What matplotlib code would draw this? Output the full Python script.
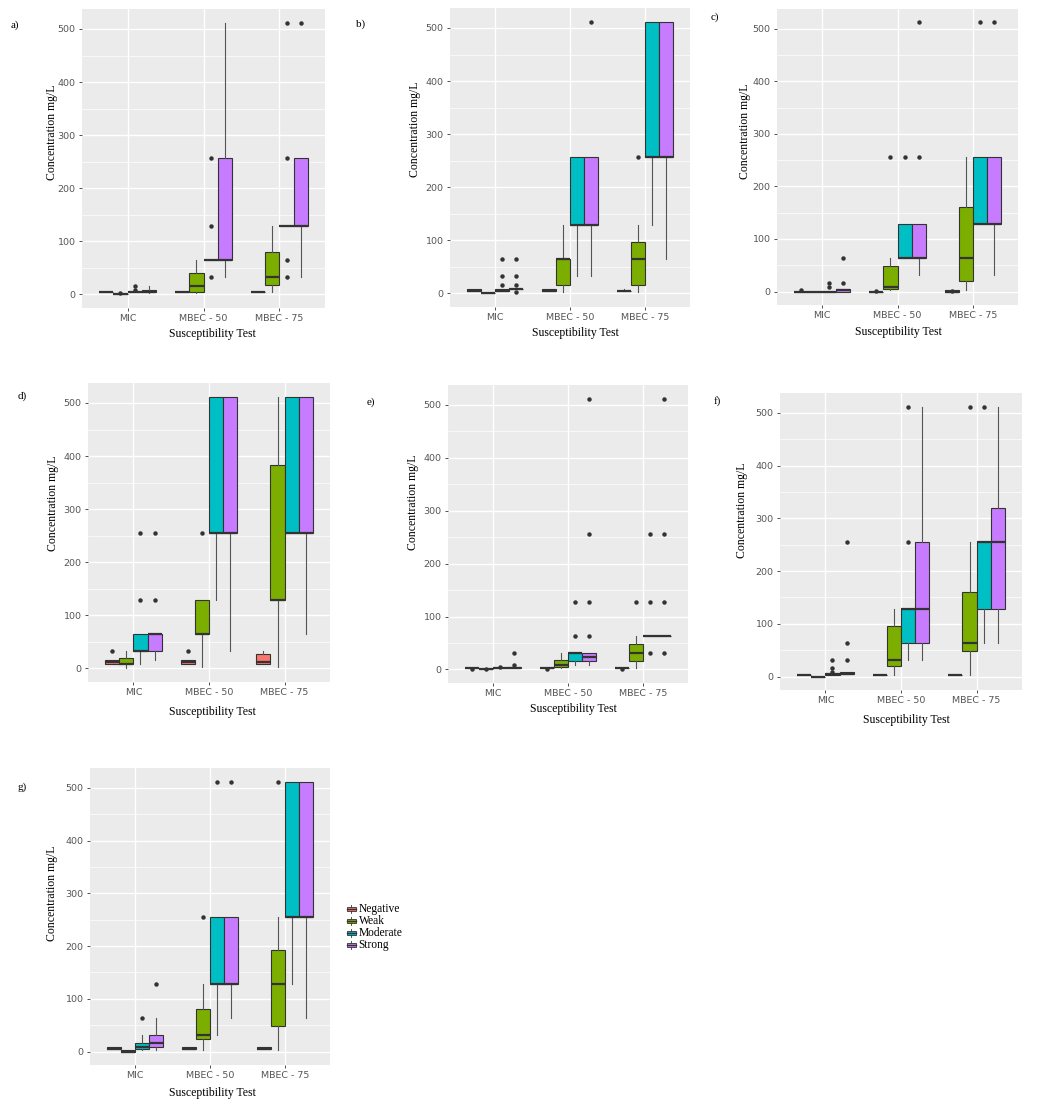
import matplotlib
matplotlib.use('Agg')
import matplotlib.pyplot as plt
from matplotlib.patches import Patch, Rectangle
from matplotlib.lines import Line2D
from matplotlib.legend_handler import HandlerBase

TESTS = ['MIC', 'MBEC - 50', 'MBEC - 75']
GROUPS = ['Negative', 'Weak', 'Moderate', 'Strong']
COLORS = ['#F8766D', '#7CAE00', '#00BFC4', '#C77CFF']

# box stats per test (MIC, MBEC-50, MBEC-75), per group:
# (whisker low, q1, median, q3, whisker high)
A_STATS = [[(4, 4, 4, 4, 4), (0, 0, 0, 0, 0), (4, 4, 4, 4, 4), (2, 4, 4, 8, 16)],
           [(4, 4, 4, 4, 4), (2, 4, 16, 40, 64), (64, 64, 64, 64, 64), (32, 64, 64, 256, 512)],
           [(4, 4, 4, 4, 4), (4, 18, 32, 80, 128), (128, 128, 128, 128, 128), (32, 128, 128, 256, 256)]]
A_FLIERS = [[[], [2], [8, 16], []],
            [[], [], [32, 128, 256], []],
            [[], [], [32, 64, 256, 512], [512]]]

B_STATS = [[(4, 4, 4, 8, 8), (0, 0, 0, 0, 0), (4, 4, 4, 8, 8), (8, 8, 8, 8, 8)],
           [(4, 4, 4, 8, 8), (2, 16, 64, 64, 128), (32, 128, 128, 256, 256), (32, 128, 128, 256, 256)],
           [(4, 4, 4, 4, 8), (2, 16, 64, 96, 128), (128, 256, 256, 512, 512), (64, 256, 256, 512, 512)]]
B_FLIERS = [[[], [], [16, 32, 64], [2, 16, 32, 64]],
            [[], [], [], [512]],
            [[], [256], [], []]]

C_STATS = [[(0, 0, 0, 0, 0), (0, 0, 0, 0, 0), (0, 0, 0, 0, 0), (0, 0, 2, 4, 4)],
           [(0, 0, 0, 0, 0), (2, 4, 8, 48, 64), (64, 64, 64, 128, 128), (32, 64, 64, 128, 128)],
           [(0, 0, 0, 2, 2), (2, 20, 64, 160, 256), (128, 128, 128, 256, 256), (32, 128, 128, 256, 256)]]
C_FLIERS = [[[2], [], [8, 16], [16, 64]],
            [[1], [256], [256], [256, 512]],
            [[1], [], [512], [512]]]

D_STATS = [[(8, 8, 12, 16, 16), (0, 8, 8, 20, 32), (8, 32, 32, 64, 64), (16, 32, 64, 64, 64)],
           [(8, 8, 12, 16, 16), (2, 64, 64, 128, 128), (128, 256, 256, 512, 512), (32, 256, 256, 512, 512)],
           [(8, 8, 12, 28, 32), (2, 128, 128, 384, 512), (256, 256, 256, 512, 512), (64, 256, 256, 512, 512)]]
D_FLIERS = [[[32], [], [128, 256], [128, 256]],
            [[32], [256], [], []],
            [[], [], [], []]]

E_STATS = [[(2, 2, 2, 2, 2), (0, 0, 0, 0, 0), (2, 2, 2, 2, 2), (2, 2, 2, 4, 4)],
           [(2, 2, 2, 2, 2), (2, 5, 8, 18, 32), (8, 16, 32, 32, 32), (8, 16, 24, 32, 32)],
           [(2, 2, 2, 2, 2), (2, 16, 32, 48, 64), (64, 64, 64, 64, 64), (64, 64, 64, 64, 64)]]
E_FLIERS = [[[0], [1], [4], [8, 32]],
            [[0], [], [64, 128], [64, 128, 256, 512]],
            [[0], [128], [32, 128, 256], [32, 128, 256, 512]]]

F_STATS = [[(2, 2, 2, 2, 2), (0, 0, 0, 0, 0), (2, 2, 4, 4, 4), (4, 4, 4, 8, 8)],
           [(2, 2, 2, 2, 2), (2, 20, 32, 96, 128), (32, 64, 128, 128, 128), (32, 64, 128, 256, 512)],
           [(2, 2, 2, 2, 2), (2, 48, 64, 160, 256), (64, 128, 256, 256, 256), (64, 128, 256, 320, 512)]]
F_FLIERS = [[[], [], [8, 16, 32], [32, 64, 256]],
            [[], [], [256, 512], []],
            [[], [512], [512], []]]

G_STATS = [[(4, 4, 4, 8, 8), (0, 0, 0, 2, 2), (2, 4, 8, 16, 32), (2, 8, 16, 32, 64)],
           [(4, 4, 4, 8, 8), (2, 24, 32, 80, 128), (32, 128, 128, 256, 256), (64, 128, 128, 256, 256)],
           [(4, 4, 4, 8, 8), (2, 48, 128, 192, 256), (128, 256, 256, 512, 512), (64, 256, 256, 512, 512)]]
G_FLIERS = [[[], [], [64], [128]],
            [[], [256], [512], [512]],
            [[], [512], [], []]]

W, H = 1037, 1101
# layout in pixels: panel rect (x0, y0, x1, y1), tag pos, ylabel pos, xlabel pos
PANELS = [
    ('a)', A_STATS, A_FLIERS, (82, 9, 325, 308), (15, 25), (52, 132), (212, 334)),
    ('b)', B_STATS, B_FLIERS, (450, 8, 690, 307), (361, 24), (415, 129), (575, 333)),
    ('c)', C_STATS, C_FLIERS, (777, 9, 1018, 305), (715, 17), (745, 131), (898, 332)),
    ('d)', D_STATS, D_FLIERS, (88, 383, 330, 682), (22, 396), (53, 503), (212, 712)),
    ('e)', E_STATS, E_FLIERS, (448, 385, 688, 683), (371, 402), (413, 502), (573, 709)),
    ('f)', F_STATS, F_FLIERS, (780, 393, 1022, 690), (717, 401), (742, 510), (906, 720)),
    ('g)', G_STATS, G_FLIERS, (90, 768, 330, 1065), (22, 787), (52, 893), (212, 1093)),
]

SERIF = 'Liberation Serif'
EDGE = '#333333'
BW = 0.75 / 4


def fx(x):
    return x / W


def fy(y):
    return 1 - y / H


class BoxKey(HandlerBase):
    # small boxplot glyph like ggplot's legend key
    def create_artists(self, legend, orig, xd, yd, width, height, fontsize, trans):
        fc = orig.get_facecolor()
        cx = xd + width / 2
        box = Rectangle((xd, yd + height * 0.2), width, height * 0.6,
                        facecolor=fc, edgecolor=EDGE, linewidth=0.6, transform=trans)
        med = Line2D([xd, xd + width], [yd + height / 2] * 2, color=EDGE,
                     linewidth=1.0, transform=trans)
        wh = Line2D([cx, cx], [yd - height * 0.1, yd + height * 1.1], color=EDGE,
                    linewidth=0.6, transform=trans)
        return [wh, box, med]


def draw_panel(ax, stats, fliers):
    for i in range(len(TESTS)):
        for j in range(len(GROUPS)):
            lo, q1, med, q3, hi = stats[i][j]
            st = dict(whislo=lo, q1=q1, med=med, q3=q3, whishi=hi,
                      fliers=fliers[i][j], label='')
            pos = i + 1 + (j - 1.5) * BW
            ax.bxp([st], positions=[pos], widths=BW, patch_artist=True,
                   showcaps=False, manage_ticks=False,
                   boxprops=dict(facecolor=COLORS[j], edgecolor=EDGE, linewidth=0.8),
                   medianprops=dict(color=EDGE, linewidth=1.6),
                   whiskerprops=dict(color='#555555', linewidth=0.8),
                   flierprops=dict(marker='o', markersize=2.2, markerfacecolor=EDGE,
                                   markeredgecolor=EDGE, linestyle='none'))
    ax.set_facecolor('#EBEBEB')
    for s in ax.spines.values():
        s.set_visible(False)
    ax.set_xlim(0.4, 3.6)
    ax.set_ylim(-25.6, 537.6)
    ax.set_xticks([1, 2, 3])
    ax.set_xticklabels(TESTS)
    ax.set_yticks([0, 100, 200, 300, 400, 500])
    ax.set_yticks([50, 150, 250, 350, 450], minor=True)
    ax.grid(which='major', color='white', linewidth=1.0)
    ax.grid(which='minor', axis='y', color='white', linewidth=0.5)
    ax.set_axisbelow(True)
    ax.tick_params(which='major', labelsize=6.8, labelcolor='#555555', color=EDGE,
                   length=2.5, width=0.6, pad=2)
    ax.tick_params(which='minor', length=0)


fig = plt.figure(figsize=(W / 100, H / 100), dpi=100)
fig.patch.set_facecolor('white')

for tag, stats, fl, rect, tpos, ypos, xpos in PANELS:
    x0, y0, x1, y1 = rect
    ax = fig.add_axes([fx(x0), fy(y1), (x1 - x0) / W, (y1 - y0) / H])
    draw_panel(ax, stats, fl)
    fig.text(fx(tpos[0]), fy(tpos[1]), tag, family=SERIF, fontsize=8,
             ha='center', va='center')
    fig.text(fx(ypos[0]), fy(ypos[1]), 'Concentration mg/L', family=SERIF,
             fontsize=8.5, rotation=90, ha='center', va='center')
    fig.text(fx(xpos[0]), fy(xpos[1]), 'Susceptibility Test', family=SERIF,
             fontsize=8.5, ha='center', va='center')

handles = [Patch(facecolor=c, edgecolor=EDGE, label=g)
           for c, g in zip(COLORS, GROUPS)]
fig.legend(handles=handles, loc='upper left', bbox_to_anchor=(fx(339), fy(895)),
           frameon=False, prop={'family': SERIF, 'size': 8.3},
           handler_map={Patch: BoxKey()},
           handlelength=0.75, handleheight=0.55, handletextpad=0.25,
           labelspacing=0.0, borderpad=0.2)

fig.savefig('out.png', dpi=100)
